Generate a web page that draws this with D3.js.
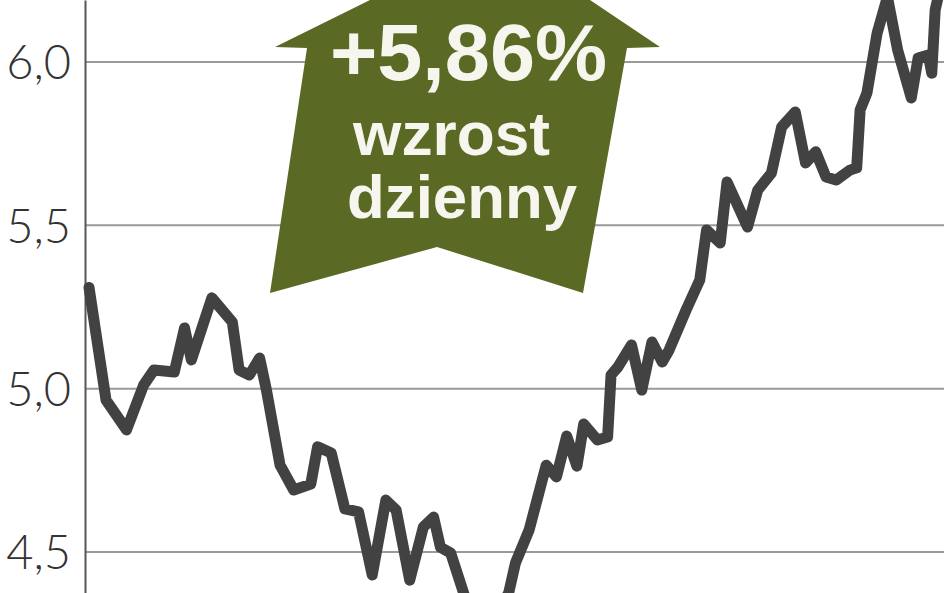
<!DOCTYPE html>
<html>
<head>
<meta charset="utf-8">
<script src="https://cdn.jsdelivr.net/npm/d3@7"></script>
<style>
  html, body { margin: 0; padding: 0; background: #fff; overflow: hidden; }
  svg { display: block; }
</style>
</head>
<body>
<svg id="chart"></svg>
<script>
// sessions (trading day index) and closing price
const days = [0, 5, 11, 16, 19, 25, 28, 30, 36, 42, 44, 47, 50, 52, 56, 60, 65, 67, 71, 75,
  79, 83, 87, 90, 94, 98, 101, 103, 106, 110, 113, 117, 120, 123, 125, 129, 134, 137, 140, 143,
  145, 149, 152, 153, 155, 159, 162, 165, 168, 170, 175, 179, 181, 185, 187, 193, 196, 200, 203, 207,
  210, 213, 216, 219, 223, 225, 226, 228, 231, 234, 237, 241, 243, 246, 247, 248, 250];
const prices = [5.31, 4.965, 4.874, 5.011, 5.057, 5.051, 5.186, 5.088, 5.278, 5.204, 5.057, 5.042, 5.094, 4.996, 4.766, 4.69, 4.708, 4.822, 4.803, 4.632,
  4.623, 4.43, 4.659, 4.629, 4.414, 4.577, 4.607, 4.515, 4.497, 4.368, 4.317, 4.286, 4.317, 4.375, 4.467, 4.568, 4.766, 4.73, 4.855, 4.763,
  4.892, 4.843, 4.852, 5.042, 5.066, 5.134, 4.996, 5.143, 5.082, 5.118, 5.241, 5.333, 5.486, 5.446, 5.633, 5.495, 5.608, 5.66, 5.801, 5.847,
  5.691, 5.725, 5.648, 5.639, 5.669, 5.676, 5.853, 5.905, 6.089, 6.199, 6.037, 5.89, 6.012, 6.021, 5.966, 6.159, 6.251];
const yTicks = [4.5, 5.0, 5.5, 6.0];
const badgeLines = ['+5,86%', 'wzrost', 'dzienny'];

const width = 948, height = 593;
const plLocale = d3.formatLocale({ decimal: ',', thousands: ' ', grouping: [3], currency: ['', ' zł'] });
const fmt = plLocale.format('.1f');

const svg = d3.select('#chart').attr('width', width).attr('height', height);

const x = d3.scaleLinear().domain([0, 250]).range([89, 942]);
const y = d3.scaleLinear().domain([4.3747, 6.1898]).range([height, 0]);

// gridlines
svg.append('g')
  .selectAll('line')
  .data(yTicks)
  .join('line')
  .attr('x1', 86)
  .attr('x2', 944)
  .attr('y1', d => y(d))
  .attr('y2', d => y(d))
  .attr('stroke', '#9a9a9a')
  .attr('stroke-width', 2);

// left axis with labels
const axis = svg.append('g')
  .attr('transform', 'translate(85,0)')
  .call(d3.axisLeft(y).tickValues(yTicks).tickFormat(fmt).tickSize(0).tickSizeOuter(0).tickPadding(14));
axis.select('.domain').attr('stroke', '#555').attr('stroke-width', 2);
axis.selectAll('text')
  .attr('fill', '#333')
  .attr('dy', '0.36em')
  .style('font-family', 'Lato, "Open Sans", sans-serif')
  .style('font-weight', 300)
  .style('font-size', '47px');

// the arrow badge
const arrow = [[370, 0], [275, 47], [307, 48], [270, 293], [437, 247], [583, 293], [627, 48], [660, 47], [590, 0]];
svg.append('path')
  .attr('d', 'M' + arrow.map(p => p.join(',')).join('L') + 'L560,-40L420,-40Z')
  .attr('fill', '#5a6924');

const badge = svg.append('g')
  .attr('fill', '#f6f6ee')
  .style('font-family', '"Liberation Sans", Arial, sans-serif')
  .style('font-weight', 'bold');
badge.append('text')
  .attr('x', 330).attr('y', 80)
  .attr('textLength', 277).attr('lengthAdjust', 'spacingAndGlyphs')
  .style('font-size', '80px')
  .text(badgeLines[0]);
badge.append('text')
  .attr('x', 353).attr('y', 155)
  .attr('textLength', 197).attr('lengthAdjust', 'spacingAndGlyphs')
  .style('font-size', '62px')
  .text(badgeLines[1]);
badge.append('text')
  .attr('x', 347).attr('y', 218)
  .attr('textLength', 230).attr('lengthAdjust', 'spacingAndGlyphs')
  .style('font-size', '62px')
  .text(badgeLines[2]);

// price line
const line = d3.line()
  .x((d, i) => x(days[i]))
  .y(d => y(d));

svg.append('path')
  .datum(prices)
  .attr('d', line)
  .attr('fill', 'none')
  .attr('stroke', '#424242')
  .attr('stroke-width', 11)
  .attr('stroke-linejoin', 'round')
  .attr('stroke-linecap', 'round');
</script>
</body>
</html>
